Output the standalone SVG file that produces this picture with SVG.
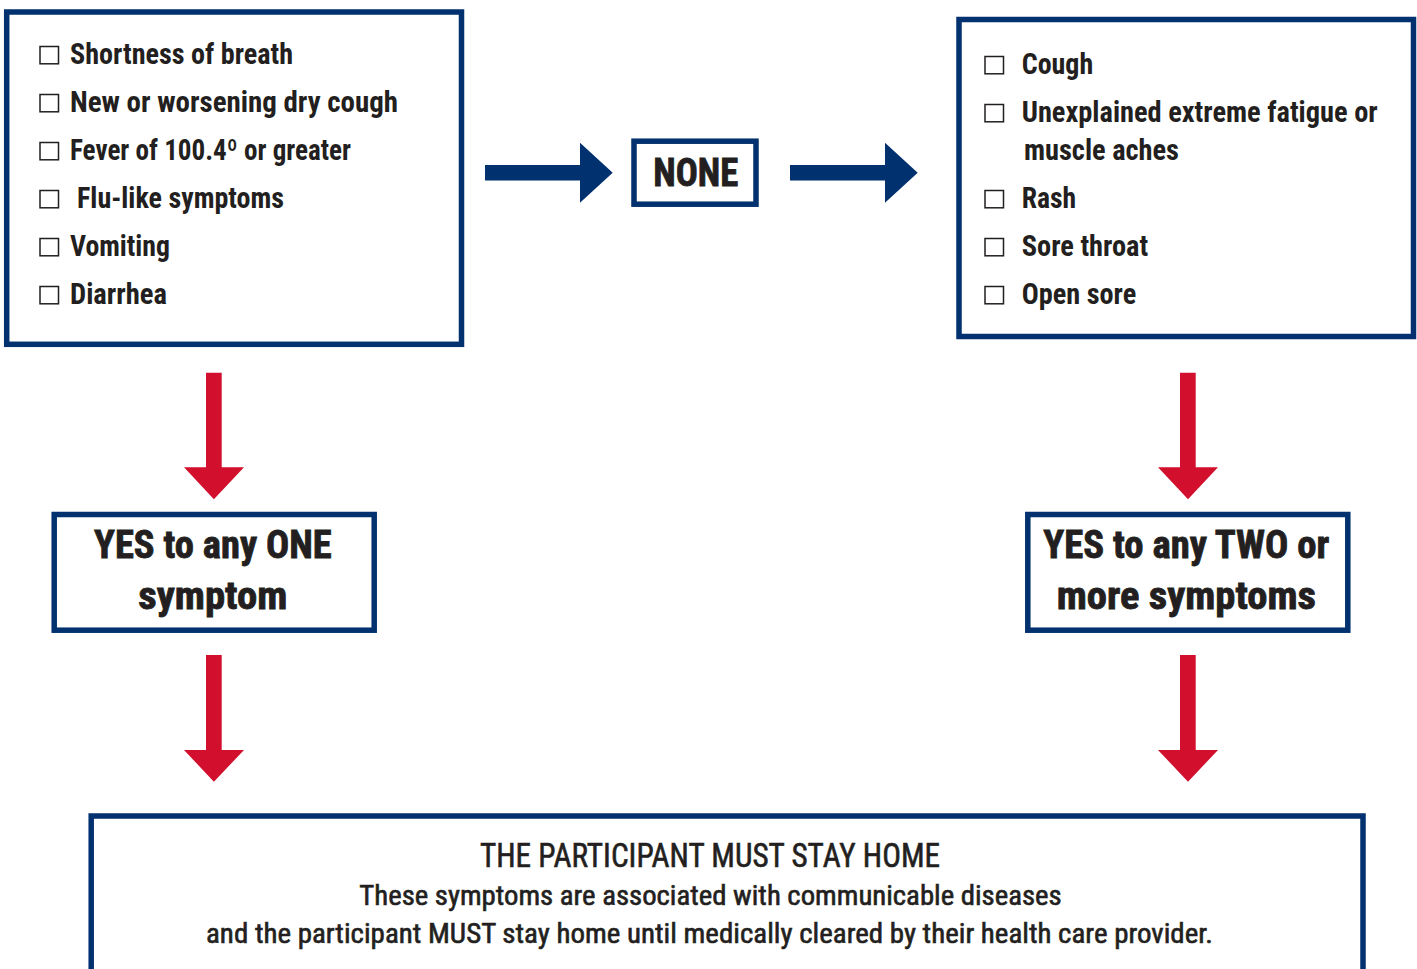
<svg xmlns="http://www.w3.org/2000/svg" width="1417" height="969" viewBox="0 0 1417 969">
<style>
.box{fill:#ffffff;stroke:#01316e;stroke-width:5.5}
.chk{fill:none;stroke:#231f20;stroke-width:1.5}
.item{font-family:"Liberation Sans Narrow","Roboto Condensed","DejaVu Sans Condensed","Liberation Sans",sans-serif;font-size:29px;font-weight:bold;fill:#231f20}
.head{font-family:"Liberation Sans Narrow","Roboto Condensed","DejaVu Sans Condensed","Liberation Sans",sans-serif;font-size:38px;font-weight:bold;fill:#231f20;stroke:#231f20;stroke-width:0.8}
.foot{font-family:"Liberation Sans Narrow","Roboto Condensed","DejaVu Sans Condensed","Liberation Sans",sans-serif;font-weight:normal;fill:#231f20;stroke:#231f20;stroke-width:0.6}
.blue{fill:#01316e}
.red{fill:#d20f2d}
</style>
<rect width="1417" height="969" fill="#ffffff"/>
<g id="connectors">
<polygon class="blue" points="485,165 580,165 580,142.8 612.7,172.8 580,202.8 580,180.6 485,180.6"/>
<polygon class="blue" points="790,165 885,165 885,142.8 917.7,172.8 885,202.8 885,180.6 790,180.6"/>
<polygon class="red" points="206,372.7 221.7,372.7 221.7,467.3 244,467.3 213.9,499.3 184,467.3 206,467.3"/>
<polygon class="red" points="206,655 221.7,655 221.7,750 244,750 213.9,781.7 184,750 206,750"/>
<polygon class="red" points="1180,372.7 1195.7,372.7 1195.7,467.3 1218,467.3 1188,499.3 1158,467.3 1180,467.3"/>
<polygon class="red" points="1180,655 1195.7,655 1195.7,750 1218,750 1188,781.7 1158,750 1180,750"/>
</g>
<g id="symptoms-one">
<rect class="box" x="6.7" y="12" width="454.8" height="332.3"/>
<rect class="chk" x="40" y="46.5" width="18.5" height="17.3"/>
<rect class="chk" x="40" y="94.5" width="18.5" height="17.3"/>
<rect class="chk" x="40" y="142.5" width="18.5" height="17.3"/>
<rect class="chk" x="40" y="190.5" width="18.5" height="17.3"/>
<rect class="chk" x="40" y="238.5" width="18.5" height="17.3"/>
<rect class="chk" x="40" y="286.5" width="18.5" height="17.3"/>
<text class="item" x="70" y="64" textLength="223" lengthAdjust="spacingAndGlyphs">Shortness of breath</text>
<text class="item" x="70" y="112" textLength="328" lengthAdjust="spacingAndGlyphs">New or worsening dry cough</text>
<text class="item" x="70" y="160" textLength="281" lengthAdjust="spacingAndGlyphs">Fever of 100.4º or greater</text>
<text class="item" x="77" y="208" textLength="207" lengthAdjust="spacingAndGlyphs">Flu-like symptoms</text>
<text class="item" x="70" y="256" textLength="100" lengthAdjust="spacingAndGlyphs">Vomiting</text>
<text class="item" x="70" y="304" textLength="97" lengthAdjust="spacingAndGlyphs">Diarrhea</text>
</g>
<g id="none">
<rect class="box" x="634" y="141.2" width="122" height="63"/>
<text class="head" x="653.3" y="186" textLength="85" lengthAdjust="spacingAndGlyphs">NONE</text>
</g>
<g id="symptoms-two">
<rect class="box" x="959" y="19.5" width="454.5" height="317"/>
<rect class="chk" x="985" y="56.5" width="18.5" height="17.3"/>
<rect class="chk" x="985" y="104.5" width="18.5" height="17.3"/>
<rect class="chk" x="985" y="190.5" width="18.5" height="17.3"/>
<rect class="chk" x="985" y="238.5" width="18.5" height="17.3"/>
<rect class="chk" x="985" y="286.5" width="18.5" height="17.3"/>
<text class="item" x="1021.7" y="74" textLength="71.5" lengthAdjust="spacingAndGlyphs">Cough</text>
<text class="item" x="1021.7" y="122" textLength="356" lengthAdjust="spacingAndGlyphs">Unexplained extreme fatigue or</text>
<text class="item" x="1024" y="160" textLength="155" lengthAdjust="spacingAndGlyphs">muscle aches</text>
<text class="item" x="1021.7" y="208" textLength="54.5" lengthAdjust="spacingAndGlyphs">Rash</text>
<text class="item" x="1021.7" y="256" textLength="126.5" lengthAdjust="spacingAndGlyphs">Sore throat</text>
<text class="item" x="1021.7" y="304" textLength="114.5" lengthAdjust="spacingAndGlyphs">Open sore</text>
</g>
<g id="yes-one">
<rect class="box" x="54.2" y="514.5" width="320" height="115.7"/>
<text class="head" x="94" y="558.3" textLength="237.7" lengthAdjust="spacingAndGlyphs">YES to any ONE</text>
<text class="head" x="138.3" y="609.3" textLength="149" lengthAdjust="spacingAndGlyphs">symptom</text>
</g>
<g id="yes-two">
<rect class="box" x="1027.8" y="514.5" width="320" height="115.7"/>
<text class="head" x="1043.3" y="558.3" textLength="286" lengthAdjust="spacingAndGlyphs">YES to any TWO or</text>
<text class="head" x="1056.7" y="609.3" textLength="259.3" lengthAdjust="spacingAndGlyphs">more symptoms</text>
</g>
<g id="stay-home">
<rect class="box" x="91.2" y="816" width="1271.8" height="200"/>
<text class="foot" x="480" y="866.7" font-size="34" textLength="460" lengthAdjust="spacingAndGlyphs">THE PARTICIPANT MUST STAY HOME</text>
<text class="foot" x="359.3" y="905" font-size="28" textLength="702.4" lengthAdjust="spacingAndGlyphs">These symptoms are associated with communicable diseases</text>
<text class="foot" x="206" y="943.3" font-size="28" textLength="1007" lengthAdjust="spacingAndGlyphs">and the participant MUST stay home until medically cleared by their health care provider.</text>
</g>
</svg>
